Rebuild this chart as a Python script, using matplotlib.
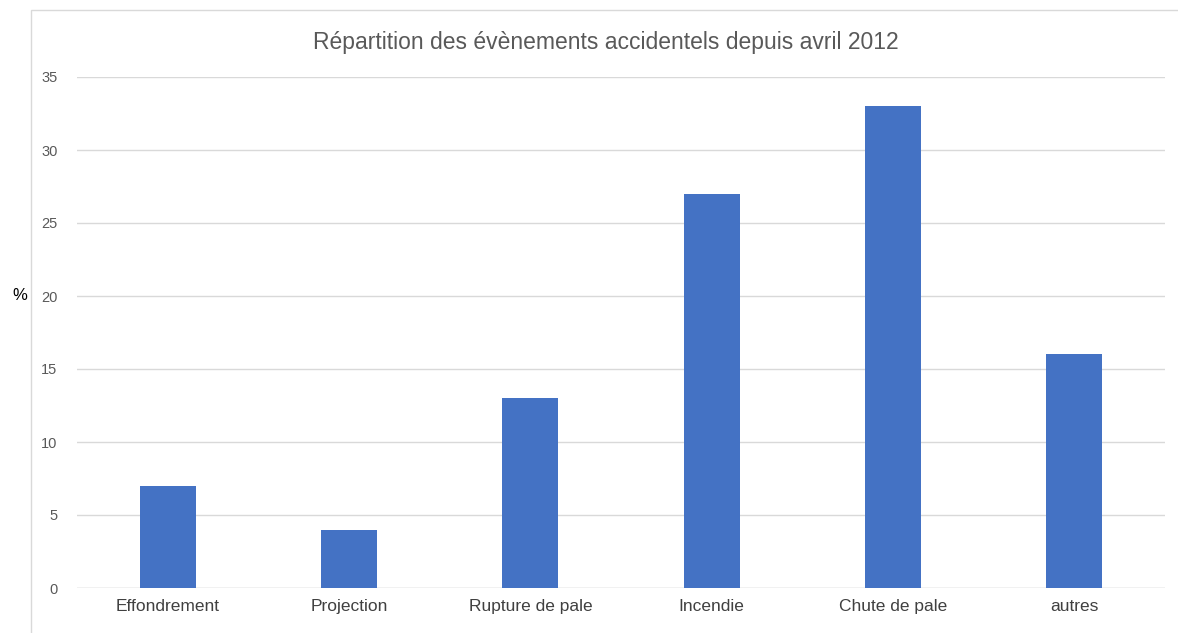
import matplotlib.pyplot as plt
from matplotlib.patches import Rectangle

plt.rcParams['font.family'] = ['Liberation Sans', 'DejaVu Sans']

categories = ['Effondrement', 'Projection', 'Rupture de pale', 'Incendie', 'Chute de pale', 'autres']
values = [7, 4, 13, 27, 33, 16]
yticks = [0, 5, 10, 15, 20, 25, 30, 35]

W, H = 1178, 633
fig = plt.figure(figsize=(W / 100, H / 100), dpi=100)
ax = fig.add_axes([77 / W, 1 - 588 / H, (1165 - 77) / W, (588 - 77) / H])

x = range(len(categories))
ax.bar(x, values, width=0.31, color='#4472c4', zorder=3)
ax.set_xlim(-0.5, len(categories) - 0.5)
ax.set_ylim(0, 35)
ax.set_yticks(yticks)
ax.set_xticks(list(x))
ax.set_xticklabels(categories, fontsize=12.5, color='#404040')
ax.tick_params(axis='y', labelsize=10.5, colors='#595959', length=0, pad=14)
ax.tick_params(axis='x', length=0, pad=8)
ax.grid(axis='y', color='#d9d9d9', linewidth=1, zorder=0)
for s in ax.spines.values():
    s.set_visible(False)
ax.axhline(0, color='#d9d9d9', linewidth=1, zorder=1)

fig.text(606 / W, 1 - 43 / H, 'Répartition des évènements accidentels depuis avril 2012',
         ha='center', va='center', fontsize=16.5, color='#595959')
fig.text(20 / W, 1 - 296 / H, '%', ha='center', va='center', fontsize=12, color='black')

# chart area frame
fig.patches.append(Rectangle((31 / W, -0.01), 1.1, 1 - 10 / H + 0.01, transform=fig.transFigure,
                             fill=False, edgecolor='#d9d9d9', linewidth=1))

fig.savefig('out.png', dpi=100)
